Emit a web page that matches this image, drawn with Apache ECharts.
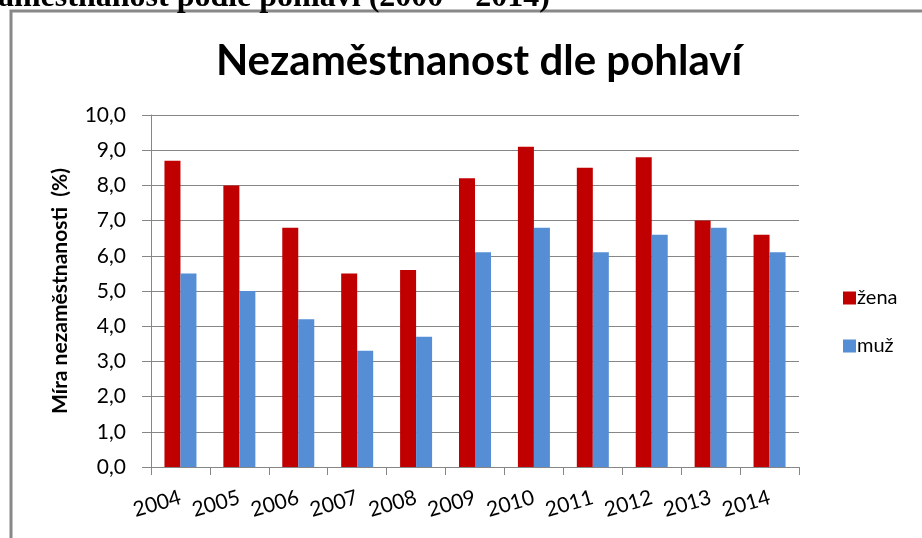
<!DOCTYPE html>
<html>
<head>
<meta charset="utf-8">
<script src="https://cdn.jsdelivr.net/npm/echarts@6/dist/echarts.min.js"></script>
<style>
  html, body { margin: 0; padding: 0; background: #fff; }
  #main { width: 922px; height: 538px; }
</style>
</head>
<body>
<div id="main"></div>
<script>
// data
const years = ['2004', '2005', '2006', '2007', '2008', '2009', '2010', '2011', '2012', '2013', '2014'];
const zena = [8.7, 8.0, 6.8, 5.5, 5.6, 8.2, 9.1, 8.5, 8.8, 7.0, 6.6];
const muz = [5.5, 5.0, 4.2, 3.3, 3.7, 6.1, 6.8, 6.1, 6.6, 6.8, 6.1];
const seriesNames = ['žena', 'muž'];

const chart = echarts.init(document.getElementById('main'));

const font = 'Lato, "Open Sans", sans-serif';
const gridColor = '#868686';

const option = {
  animation: false,
  backgroundColor: '#fff',
  title: {
    text: 'Nezaměstnanost dle pohlaví',
    left: 474,
    textAlign: 'center',
    top: 35,
    textStyle: { fontFamily: font, fontSize: 42, fontWeight: 'bold', color: '#000' }
  },
  graphic: [
    // frame of the chart object
    {
      type: 'rect',
      shape: { x: 11, y: 11, width: 940, height: 560 },
      style: { fill: 'none', stroke: '#888', lineWidth: 3 }
    },
    // cut-off caption above the chart
    {
      type: 'text',
      right: 372,
      top: -18,
      style: {
        text: 'Nezaměstnanost podle pohlaví (2000 – 2014)',
        font: 'bold 32px "Liberation Serif", serif',
        fill: '#000'
      }
    }
  ],
  legend: {
    orient: 'vertical',
    left: 838,
    top: 283,
    itemWidth: 13,
    itemHeight: 13,
    itemGap: 28,
    icon: 'rect',
    data: seriesNames,
    textStyle: { fontFamily: font, fontSize: 20, color: '#000', padding: [0, 0, 0, -4] }
  },
  grid: { left: 151, right: 123, top: 115, bottom: 71 },
  xAxis: {
    type: 'category',
    data: years,
    axisLine: { lineStyle: { color: gridColor } },
    axisTick: { show: true, length: 8, lineStyle: { color: gridColor } },
    axisLabel: {
      interval: 0,
      rotate: 16,
      margin: 30,
      fontFamily: font,
      fontSize: 21,
      color: '#000'
    }
  },
  yAxis: {
    type: 'value',
    min: 0,
    max: 10,
    interval: 1,
    name: 'Míra nezaměstnanosti  (%)',
    nameLocation: 'middle',
    nameGap: 80,
    nameTextStyle: { fontFamily: font, fontSize: 21, fontWeight: 'bold', color: '#000' },
    axisLine: { show: true, lineStyle: { color: gridColor } },
    axisTick: { show: true, length: 9, lineStyle: { color: gridColor } },
    splitLine: { lineStyle: { color: gridColor, width: 1 } },
    axisLabel: {
      margin: 25,
      fontFamily: font,
      fontSize: 21,
      color: '#000',
      formatter: v => v.toFixed(1).replace('.', ',')
    }
  },
  series: [
    {
      name: seriesNames[0],
      type: 'bar',
      data: zena,
      itemStyle: { color: '#C00000' },
      barWidth: 16,
      barGap: '0%'
    },
    {
      name: seriesNames[1],
      type: 'bar',
      data: muz,
      itemStyle: { color: '#558ED5' },
      barWidth: 16,
      barGap: '0%'
    }
  ]
};

chart.setOption(option);
</script>
</body>
</html>
